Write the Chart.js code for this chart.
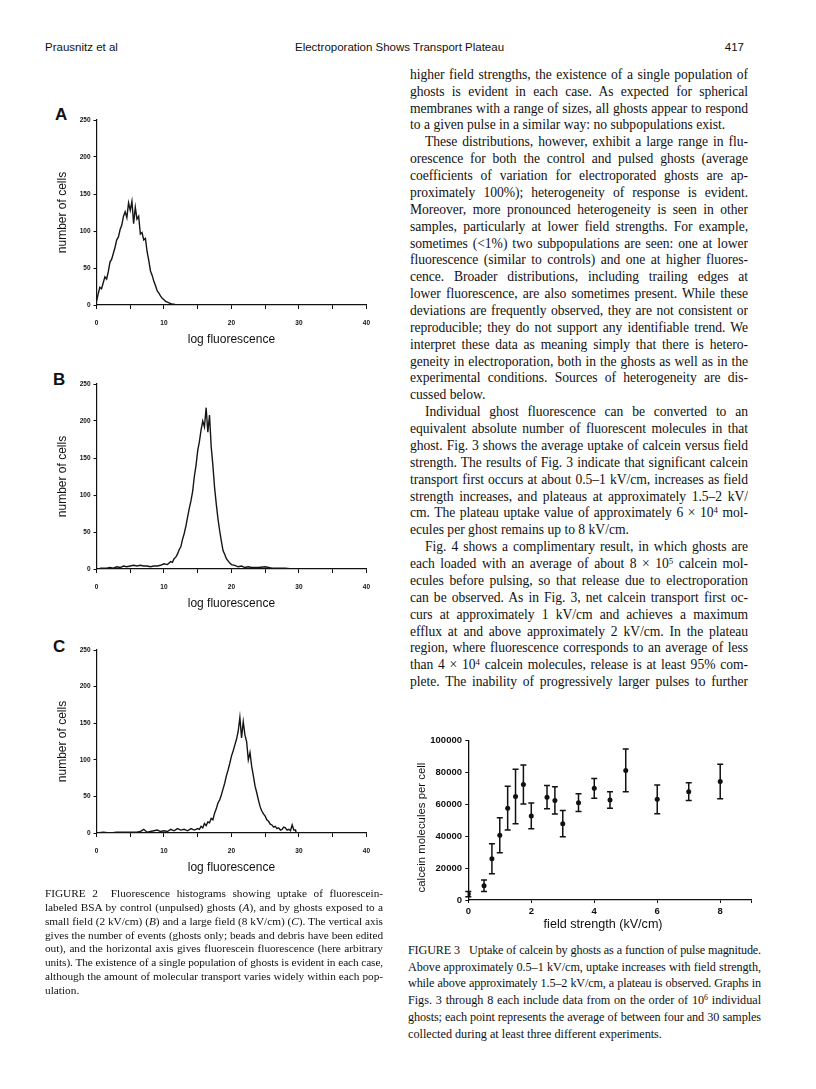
<!DOCTYPE html>
<html>
<head>
<meta charset="utf-8">
<title>Electroporation Shows Transport Plateau</title>
<script src="https://cdn.jsdelivr.net/npm/chart.js@4.4.1/dist/chart.umd.min.js"></script>
<style>
  html, body { margin: 0; padding: 0; background: #fff; }
  body { width: 816px; height: 1089px; position: relative; overflow: hidden; color: #111; }
  .abs { position: absolute; }
  .hdr { font-family: Arial, "Liberation Sans", sans-serif; font-size: 11.5px; line-height: 15px; top: 40px; white-space: nowrap; }
  .panel { font-family: Arial, "Liberation Sans", sans-serif; font-weight: bold; font-size: 17px; line-height: 17px; }
  .line { position: absolute; overflow: hidden; text-align: justify; text-align-last: justify;
          font-family: "Liberation Serif", "Times New Roman", serif; color: #111; }
  .line.end { text-align-last: left; }
  canvas { position: absolute; }
  sup { font-size: 0.65em; line-height: 0; vertical-align: 0.45em; }
</style>
</head>
<body>

<div class="abs hdr" style="left:45px">Prausnitz et al</div>
<div class="abs hdr" style="left:295px">Electroporation Shows Transport Plateau</div>
<div class="abs hdr" style="left:700px;width:44px;text-align:right">417</div>

<div class="abs panel" style="left:55px;top:106px">A</div>
<div class="abs panel" style="left:53px;top:371px">B</div>
<div class="abs panel" style="left:53px;top:638px">C</div>

<canvas id="histA" width="340" height="260" style="left:40px;top:100px"></canvas>
<canvas id="histB" width="340" height="260" style="left:40px;top:364px"></canvas>
<canvas id="histC" width="340" height="258" style="left:40px;top:630px"></canvas>
<canvas id="fig3" width="365" height="215" style="left:400px;top:725px"></canvas>

<script>
// histogram A: control (unpulsed) ghosts
const fluorA = [0, 0.25, 0.5, 0.75, 1, 1.25, 1.5, 1.75, 2, 2.25, 2.5, 2.75, 3, 3.25, 3.5, 3.75, 4, 4.25, 4.5, 4.75,
  5, 5.25, 5.5, 5.75, 6, 6.25, 6.5, 6.75, 7, 7.25, 7.5, 7.75, 8, 8.25, 8.5, 8.75, 9, 9.25, 9.5, 9.75,
  10, 10.25, 10.5, 10.75, 11, 11.25, 11.5, 11.75, 12, 40];
const countA = [5, 15, 24, 22, 30, 38, 35, 45, 58, 62, 70, 78, 88, 92, 102, 108, 120, 126, 118, 138,
  128, 140, 110, 132, 116, 120, 96, 98, 88, 90, 72, 60, 46, 40, 32, 26, 19, 16, 12, 9,
  7, 5, 4, 3, 2, 1, 1, 0, 0, 0];

// histogram B: small field (2 kV/cm)
const fluorB = [0.5, 1, 1.5, 2, 2.5, 3, 3.5, 4, 4.5, 5, 5.5, 6, 6.5, 7, 7.5, 8, 8.5, 9, 9.5, 10, 10.5, 11,
  11.25, 11.5, 11.75, 12, 12.25, 12.5, 12.75, 13, 13.25, 13.5, 13.75, 14, 14.25, 14.5, 14.75, 15,
  15.25, 15.5, 15.75, 16, 16.25, 16.5, 16.75, 17, 17.25, 17.5, 17.75, 18, 18.25, 18.5, 18.75, 19,
  19.25, 19.5, 19.75, 20, 20.5, 21, 21.5, 22, 22.5, 23, 24, 25, 26, 27, 28, 29];
const countB = [1, 1, 1, 2, 1, 3, 2, 4, 3, 4, 5, 4, 5, 4, 4, 3, 4, 4, 5, 7, 6, 10,
  9, 14, 16, 20, 26, 30, 40, 48, 58, 70, 82, 92, 105, 125, 140, 160,
  172, 188, 200, 192, 218, 185, 208, 165, 140, 110, 88, 68, 52, 38, 25, 20,
  14, 11, 8, 6, 5, 3, 4, 2, 3, 2, 2, 3, 1, 1, 1, 0];

// histogram C: large field (8 kV/cm)
const fluorC = [0, 1, 2, 3, 4, 5, 6, 6.5, 7, 7.5, 8, 9, 9.5, 10, 10.5, 11, 11.5, 12, 12.5, 13, 13.5, 14, 14.5, 15,
  15.25, 15.5, 15.75, 16, 16.25, 16.5, 16.75, 17, 17.25, 17.5, 17.75, 18, 18.25, 18.5, 18.75, 19,
  19.25, 19.5, 19.75, 20, 20.25, 20.5, 20.75, 21, 21.25, 21.5, 21.75, 22, 22.25, 22.5, 22.75, 23,
  23.25, 23.5, 23.75, 24, 24.25, 24.5, 24.75, 25, 25.25, 25.5, 25.75, 26, 26.25, 26.5, 26.75, 27,
  27.25, 27.5, 27.75, 28, 28.25, 28.5, 28.75, 29, 29.25, 29.5, 29.6];
const countC = [0, 1, 0, 1, 1, 1, 1, 2, 5, 1, 2, 4, 2, 3, 2, 5, 3, 6, 4, 5, 3, 6, 4, 6,
  5, 9, 7, 13, 10, 15, 14, 20, 18, 27, 33, 41, 45, 52, 60, 68,
  78, 86, 95, 105, 112, 120, 128, 139, 158, 130, 152, 134, 125, 100, 110, 91,
  78, 64, 55, 45, 36, 30, 26, 23, 18, 16, 12, 11, 8, 9, 6, 7,
  4, 5, 8, 7, 4, 5, 3, 11, 4, 4, 0];

// figure 3: calcein uptake vs field strength
const fieldStrength = [0, 0.5, 0.75, 1, 1.25, 1.5, 1.75, 2, 2.5, 2.75, 3, 3.5, 4, 4.5, 5, 6, 7, 8];
const uptake = [3700, 8900, 25800, 40600, 57500, 64800, 72400, 52700, 64400, 62400, 47800, 61000, 70000, 62700, 81200, 63100, 67900, 74300];
const uptakeErr = [1600, 3600, 9400, 11000, 13700, 17100, 12200, 8000, 7300, 8500, 8200, 5500, 6200, 5200, 13400, 9000, 5600, 10800];

const histXLabel = 'log fluorescence';
const histYLabel = 'number of cells';
const fig3XLabel = 'field strength (kV/cm)';
const fig3YLabel = 'calcein molecules per cell';

Chart.defaults.font.family = 'Arial, "Liberation Sans", sans-serif';
Chart.defaults.color = '#111';

const tickFont = { size: 6.5, weight: 'bold' };

function histogram(id, xs, ys) {
  const pts = xs.map(function (x, i) { return { x: x, y: ys[i] }; });
  return new Chart(document.getElementById(id), {
    type: 'scatter',
    data: {
      datasets: [{
        data: pts,
        showLine: true,
        borderColor: '#151515',
        borderWidth: 1.4,
        pointRadius: 0,
        tension: 0
      }]
    },
    options: {
      responsive: false,
      animation: false,
      layout: { padding: { top: 20, right: 11, left: 0, bottom: 0 } },
      plugins: { legend: { display: false }, tooltip: { enabled: false } },
      scales: {
        x: {
          type: 'linear', min: 0, max: 40,
          afterFit: function (s) { s.height = 55; },
          ticks: { stepSize: 5, autoSkip: false, maxRotation: 0, padding: 10, font: tickFont,
            callback: function (v) { return v % 10 === 0 ? String(v) : ''; } },
          grid: { drawOnChartArea: false, tickLength: 4, color: '#111' },
          border: { color: '#111', width: 1.2 },
          title: { display: true, text: histXLabel, font: { size: 12 }, padding: { top: 0, bottom: 13 } }
        },
        y: {
          min: 0, max: 250,
          afterFit: function (s) { s.width = 56.5; },
          ticks: { stepSize: 50, autoSkip: false, padding: 3, font: tickFont,
            callback: function (v) { return String(v); } },
          grid: { drawOnChartArea: false, tickLength: 3, color: '#111' },
          border: { color: '#111', width: 1.2 },
          title: { display: true, text: histYLabel, font: { size: 12 }, padding: { top: 15.8, bottom: 0 } }
        }
      }
    }
  });
}

histogram('histA', fluorA, countA);
histogram('histB', fluorB, countB);
histogram('histC', fluorC, countC);

// error bars and axis titles for figure 3, placed with the chart's scales
const errorBars = {
  id: 'errorBars',
  afterDatasetsDraw: function (chart) {
    const ctx = chart.ctx, x = chart.scales.x, y = chart.scales.y;
    ctx.save();
    ctx.strokeStyle = '#111';
    ctx.lineWidth = 1.5;
    fieldStrength.forEach(function (f, i) {
      const px = x.getPixelForValue(f);
      const top = y.getPixelForValue(uptake[i] + uptakeErr[i]);
      const bot = y.getPixelForValue(uptake[i] - uptakeErr[i]);
      ctx.beginPath();
      ctx.moveTo(px, top); ctx.lineTo(px, bot);
      ctx.moveTo(px - 3, top); ctx.lineTo(px + 3, top);
      ctx.moveTo(px - 3, bot); ctx.lineTo(px + 3, bot);
      ctx.stroke();
    });
    ctx.restore();
  }
};

const fig3Titles = {
  id: 'fig3Titles',
  afterDraw: function (chart) {
    const ctx = chart.ctx, x = chart.scales.x, y = chart.scales.y;
    ctx.save();
    ctx.fillStyle = '#111';
    ctx.textAlign = 'center';
    ctx.textBaseline = 'middle';
    ctx.font = '12.6px Arial, "Liberation Sans", sans-serif';
    ctx.fillText(fig3XLabel, x.getPixelForValue(4.28), y.bottom + 25);
    ctx.font = '11.4px Arial, "Liberation Sans", sans-serif';
    ctx.translate(x.left - 46.6, y.getPixelForValue(45400));
    ctx.rotate(-Math.PI / 2);
    ctx.fillText(fig3YLabel, 0, 0);
    ctx.restore();
  }
};

new Chart(document.getElementById('fig3'), {
  type: 'scatter',
  data: {
    datasets: [{
      data: fieldStrength.map(function (f, i) { return { x: f, y: uptake[i] }; }),
      pointRadius: 2.5,
      pointBackgroundColor: '#111',
      pointBorderColor: '#111',
      pointBorderWidth: 0
    }]
  },
  options: {
    responsive: false,
    animation: false,
    layout: { padding: { top: 15.4, right: 13.3, left: 0, bottom: 0 } },
    plugins: { legend: { display: false }, tooltip: { enabled: false } },
    scales: {
      x: {
        type: 'linear', min: 0, max: 9,
        afterFit: function (s) { s.height = 40; },
        ticks: { stepSize: 2, autoSkip: false, maxRotation: 0, padding: 2.6, font: { size: 9.5, weight: 'bold' },
          callback: function (v) { return v % 2 === 0 ? String(v) : ''; } },
        grid: { drawOnChartArea: false, tickLength: 3, color: '#111' },
        border: { color: '#111', width: 1.3 }
      },
      y: {
        min: 0, max: 100000,
        afterFit: function (s) { s.width = 68.3; },
        ticks: { stepSize: 20000, autoSkip: false, padding: 3.3, font: { size: 9.5, weight: 'bold' },
          callback: function (v) { return String(v); } },
        grid: { drawOnChartArea: false, tickLength: 3, color: '#111' },
        border: { color: '#111', width: 1.3 }
      }
    }
  },
  plugins: [errorBars, fig3Titles]
});

// typeset text, one justified line per row as in the printed page
// '>' = indented paragraph start, '|' = last line of paragraph
const bodyLines = [
  'higher field strengths, the existence of a single population of',
  'ghosts is evident in each case. As expected for spherical',
  'membranes with a range of sizes, all ghosts appear to respond',
  'to a given pulse in a similar way: no subpopulations exist.|',
  '>These distributions, however, exhibit a large range in flu-',
  'orescence for both the control and pulsed ghosts (average',
  'coefficients of variation for electroporated ghosts are ap-',
  'proximately 100%); heterogeneity of response is evident.',
  'Moreover, more pronounced heterogeneity is seen in other',
  'samples, particularly at lower field strengths. For example,',
  'sometimes (&lt;1%) two subpopulations are seen: one at lower',
  'fluorescence (similar to controls) and one at higher fluores-',
  'cence. Broader distributions, including trailing edges at',
  'lower fluorescence, are also sometimes present. While these',
  'deviations are frequently observed, they are not consistent or',
  'reproducible; they do not support any identifiable trend. We',
  'interpret these data as meaning simply that there is hetero-',
  'geneity in electroporation, both in the ghosts as well as in the',
  'experimental conditions. Sources of heterogeneity are dis-',
  'cussed below.|',
  '>Individual ghost fluorescence can be converted to an',
  'equivalent absolute number of fluorescent molecules in that',
  'ghost. Fig. 3 shows the average uptake of calcein versus field',
  'strength. The results of Fig. 3 indicate that significant calcein',
  'transport first occurs at about 0.5–1 kV/cm, increases as field',
  'strength increases, and plateaus at approximately 1.5–2 kV/',
  'cm. The plateau uptake value of approximately 6 × 10<sup>4</sup> mol-',
  'ecules per ghost remains up to 8 kV/cm.|',
  '>Fig. 4 shows a complimentary result, in which ghosts are',
  'each loaded with an average of about 8 × 10<sup>5</sup> calcein mol-',
  'ecules before pulsing, so that release due to electroporation',
  'can be observed. As in Fig. 3, net calcein transport first oc-',
  'curs at approximately 1 kV/cm and achieves a maximum',
  'efflux at and above approximately 2 kV/cm. In the plateau',
  'region, where fluorescence corresponds to an average of less',
  'than 4 × 10<sup>4</sup> calcein molecules, release is at least 95% com-',
  'plete. The inability of progressively larger pulses to further'
];

const fig2Caption = [
  'FIGURE 2&nbsp; Fluorescence histograms showing uptake of fluorescein-',
  'labeled BSA by control (unpulsed) ghosts (<i>A</i>), and by ghosts exposed to a',
  'small field (2 kV/cm) (<i>B</i>) and a large field (8 kV/cm) (<i>C</i>). The vertical axis',
  'gives the number of events (ghosts only; beads and debris have been edited',
  'out), and the horizontal axis gives fluorescein fluorescence (here arbitrary',
  'units). The existence of a single population of ghosts is evident in each case,',
  'although the amount of molecular transport varies widely within each pop-',
  'ulation.|'
];

const fig3Caption = [
  'FIGURE 3&nbsp;&nbsp; Uptake of calcein by ghosts as a function of pulse magnitude.',
  'Above approximately 0.5–1 kV/cm, uptake increases with field strength,',
  'while above approximately 1.5–2 kV/cm, a plateau is observed. Graphs in',
  'Figs. 3 through 8 each include data from on the order of 10<sup>6</sup> individual',
  'ghosts; each point represents the average of between four and 30 samples',
  'collected during at least three different experiments.|'
];

function placeLines(lines, left, firstY, step, width, size) {
  lines.forEach(function (raw, i) {
    const d = document.createElement('div');
    d.className = 'line';
    let html = raw, indent = 0;
    if (html.charAt(html.length - 1) === '|') { d.classList.add('end'); html = html.slice(0, -1); }
    if (html.charAt(0) === '>') { indent = 15; html = html.slice(1); }
    d.style.left = (left + indent) + 'px';
    d.style.width = (width - indent) + 'px';
    d.style.height = step + 'px';
    d.style.fontSize = size + 'px';
    d.style.lineHeight = step + 'px';
    d.style.top = (firstY + i * step - step / 2 - 0.1075 * size) + 'px';
    d.style.whiteSpace = 'nowrap';
    d.innerHTML = '<span>' + html + '</span>';
    document.body.appendChild(d);
    const w = d.firstChild.getBoundingClientRect().width;
    const avail = width - indent - 2;
    if (w > avail) {
      d.style.letterSpacing = ((avail - w) / d.textContent.length) + 'px';
    }
    if (!d.classList.contains('end')) d.style.whiteSpace = 'normal';
  });
}

placeLines(bodyLines, 410, 76.7, 16.87, 338, 13.6);
placeLines(fig2Caption, 45, 895, 13.9, 338, 11.3);
placeLines(fig3Caption, 408, 951.7, 16.7, 353, 12.2);
</script>
</body>
</html>
